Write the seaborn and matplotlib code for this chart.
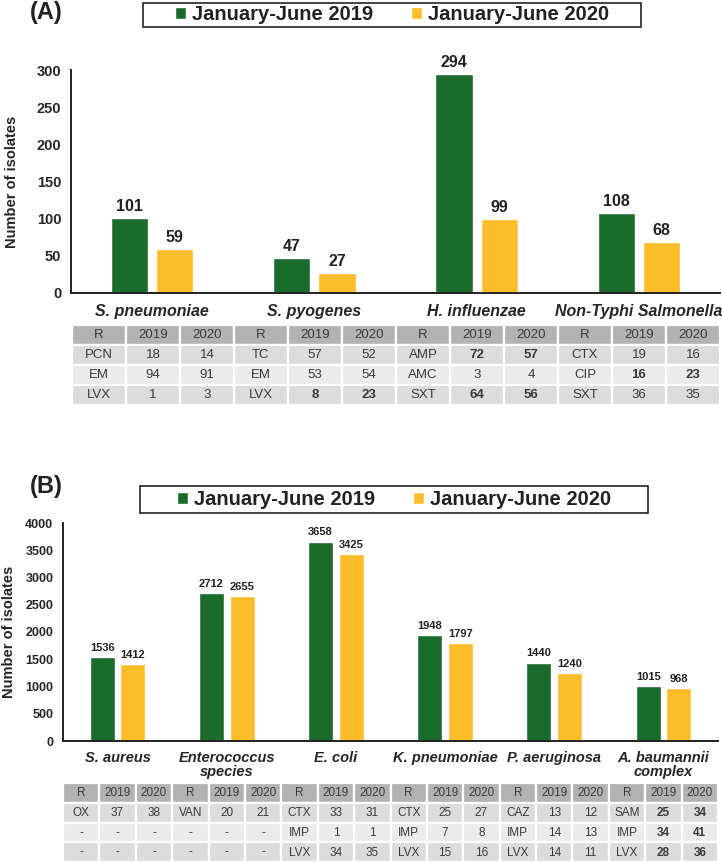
import matplotlib
matplotlib.use("Agg")
import matplotlib.pyplot as plt
import pandas as pd
import seaborn as sns
from matplotlib.patches import Rectangle

# ---- data ----
periods = ["January-June 2019", "January-June 2020"]

a_groups = ["S. pneumoniae", "S. pyogenes", "H. influenzae", "Non-Typhi Salmonella"]
a_2019 = [101, 47, 294, 108]
a_2020 = [59, 27, 99, 68]
a_drugs = [["PCN", "EM", "LVX"], ["TC", "EM", "LVX"], ["AMP", "AMC", "SXT"], ["CTX", "CIP", "SXT"]]
a_r2019 = [["18", "94", "1"], ["57", "53", "8"], ["72", "3", "64"], ["19", "16", "36"]]
a_r2020 = [["14", "91", "3"], ["52", "54", "23"], ["57", "4", "56"], ["16", "23", "35"]]
a_bold = [[0, 0, 0], [0, 0, 1], [1, 0, 1], [0, 1, 0]]

b_groups = ["S. aureus", "Enterococcus\nspecies", "E. coli", "K. pneumoniae",
            "P. aeruginosa", "A. baumannii\ncomplex"]
b_2019 = [1536, 2712, 3658, 1948, 1440, 1015]
b_2020 = [1412, 2655, 3425, 1797, 1240, 968]
b_drugs = [["OX", "-", "-"], ["VAN", "-", "-"], ["CTX", "IMP", "LVX"],
           ["CTX", "IMP", "LVX"], ["CAZ", "IMP", "LVX"], ["SAM", "IMP", "LVX"]]
b_r2019 = [["37", "-", "-"], ["20", "-", "-"], ["33", "1", "34"],
           ["25", "7", "15"], ["13", "14", "14"], ["25", "34", "28"]]
b_r2020 = [["38", "-", "-"], ["21", "-", "-"], ["31", "1", "35"],
           ["27", "8", "16"], ["12", "13", "11"], ["34", "41", "36"]]
b_bold = [[0, 0, 0], [0, 0, 0], [0, 0, 0], [0, 0, 0], [0, 0, 0], [1, 1, 1]]

colors = ["#1b6b2d", "#fdbd2b"]

sns.set_theme(style="white")
plt.rcParams["font.family"] = ["Liberation Sans", "DejaVu Sans"]
plt.rcParams["text.color"] = "#222222"

W, H = 722, 863
fig = plt.figure(figsize=(W / 100, H / 100), dpi=100)


def box(l, t, r, b):
    return [l / W, 1 - b / H, (r - l) / W, (b - t) / H]


def bar_panel(rect, groups, v19, v20, ymax, step, tick_fs, lab_fs, cat_fs, val_fs, cat_pad):
    df = pd.DataFrame({
        "group": groups * 2,
        "period": [periods[0]] * len(groups) + [periods[1]] * len(groups),
        "n": v19 + v20,
    })
    ax = fig.add_axes(rect)
    sns.barplot(data=df, x="group", y="n", hue="period", palette=colors,
                width=0.56, gap=0.18, ax=ax, legend=False, saturation=1)
    for c in ax.containers:
        ax.bar_label(c, fontsize=val_fs, fontweight="bold", padding=3, color="#222222")
    n = len(groups)
    ax.set_xlim(-0.5, n - 0.5)
    ax.set_ylim(0, ymax)
    ax.set_yticks(range(0, ymax + 1, step))
    ax.set_xticks(range(n))
    ax.set_xticklabels(groups, fontsize=cat_fs, fontweight="bold", style="italic",
                       linespacing=1.05)
    ax.set_xticks([i - 0.5 for i in range(n + 1)], minor=True)
    ax.tick_params(axis="x", which="major", length=0, pad=cat_pad)
    ax.tick_params(axis="x", which="minor", length=5, width=1.3, color="#222222", direction="out")
    ax.tick_params(axis="y", length=5, width=1.3, color="#222222", direction="out", pad=2)
    for t in ax.get_yticklabels():
        t.set_fontsize(tick_fs)
        t.set_fontweight("bold")
    ax.set_xlabel("")
    ax.set_ylabel("Number of isolates", fontsize=lab_fs, fontweight="bold")
    sns.despine(ax=ax)
    for s in ["left", "bottom"]:
        ax.spines[s].set_linewidth(1.4)
        ax.spines[s].set_color("#222222")
    return ax


def table_panel(rect, drugs, r19, r20, bold, fs):
    ax = fig.add_axes(rect)
    ncol = len(drugs) * 3
    ax.set_xlim(0, ncol)
    ax.set_ylim(4, 0)
    ax.axis("off")
    fills = ["#b2b2b2", "#dcdcdc", "#ebebeb", "#dcdcdc"]
    header = ["R", "2019", "2020"]
    for g in range(len(drugs)):
        for j in range(3):
            col = g * 3 + j
            for row in range(4):
                ax.add_patch(Rectangle((col, row), 1, 1, facecolor=fills[row],
                                       edgecolor="white", linewidth=1.6))
                if row == 0:
                    txt, wt = header[j], "normal"
                else:
                    txt = [drugs, r19, r20][j][g][row - 1]
                    wt = "bold" if (j > 0 and bold[g][row - 1]) else "normal"
                ax.text(col + 0.5, row + 0.52, txt, ha="center", va="center",
                        fontsize=fs, fontweight=wt, color="#3a3a3a")
    return ax


# ---- panel A ----
axA = bar_panel(box(71, 70, 720, 293), a_groups, a_2019, a_2020, 300, 50,
                tick_fs=10.5, lab_fs=10.5, cat_fs=11.5, val_fs=11.5, cat_pad=8)
axA.yaxis.set_label_coords(-0.08, 0.5)
table_panel(box(72, 325, 720, 405), a_drugs, a_r2019, a_r2020, a_bold, 9.5)

# ---- panel B ----
axB = bar_panel(box(63, 523, 718, 741), b_groups, b_2019, b_2020, 4000, 500,
                tick_fs=9, lab_fs=10.5, cat_fs=10.5, val_fs=8, cat_pad=7)
axB.yaxis.set_label_coords(-0.072, 0.5)
table_panel(box(63, 783, 718, 862), b_drugs, b_r2019, b_r2020, b_bold, 8.5)

# panel letters
fig.text(30 / W, 1 - 13 / H, "(A)", fontsize=17, fontweight="bold", va="center")
fig.text(30 / W, 1 - 486 / H, "(B)", fontsize=17, fontweight="bold", va="center")

# legends: frame drawn separately so its size matches the original boxes
handles = [Rectangle((0, 0), 1, 1, facecolor=c) for c in colors]
for (l, t, r, b) in [(143, 3, 641, 27), (140, 486, 648, 513)]:
    fig.add_artist(Rectangle((l / W, 1 - b / H), (r - l) / W, (b - t) / H,
                             transform=fig.transFigure, facecolor="white",
                             edgecolor="#222222", linewidth=1.2, zorder=1))
    leg = fig.legend(handles, periods, loc="center", ncol=2,
                     bbox_to_anchor=((l + r) / 2 / W, 1 - (t + b) / 2 / H),
                     frameon=False,
                     handlelength=0.55, handleheight=0.55, handletextpad=0.3,
                     columnspacing=1.9, borderpad=0, borderaxespad=0,
                     prop={"weight": "bold", "size": 14.5})
    leg.set_zorder(2)

fig.savefig("out.png", dpi=100)
